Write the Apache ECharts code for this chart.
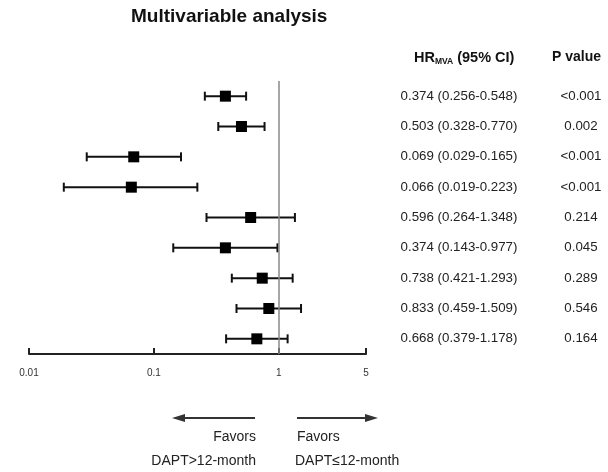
<!DOCTYPE html>
<html>
<head>
<meta charset="utf-8">
<script src="https://cdn.jsdelivr.net/npm/echarts@6/dist/echarts.min.js"></script>
<style>html,body{margin:0;padding:0;background:#fff}#c{width:608px;height:472px}</style>
</head>
<body>
<div id="c"></div>
<script>
var hr = [0.374, 0.503, 0.069, 0.066, 0.596, 0.374, 0.738, 0.833, 0.668];
var ciLow = [0.256, 0.328, 0.029, 0.019, 0.264, 0.143, 0.421, 0.459, 0.379];
var ciHigh = [0.548, 0.770, 0.165, 0.223, 1.348, 0.977, 1.293, 1.509, 1.178];
var hrText = ['0.374 (0.256-0.548)', '0.503 (0.328-0.770)', '0.069 (0.029-0.165)', '0.066 (0.019-0.223)',
  '0.596 (0.264-1.348)', '0.374 (0.143-0.977)', '0.738 (0.421-1.293)', '0.833 (0.459-1.509)', '0.668 (0.379-1.178)'];
var pText = ['<0.001', '0.002', '<0.001', '<0.001', '0.214', '0.045', '0.289', '0.546', '0.164'];
var xTicks = [0.01, 0.1, 1, 5];
var xTickLabels = ['0.01', '0.1', '1', '5'];

var FONT = 'Liberation Sans, Arial, Helvetica, sans-serif';
var data = hr.map(function (v, i) { return [i, v, ciLow[i], ciHigh[i]]; });

var chart = echarts.init(document.getElementById('c'));
chart.setOption({
  animation: false,
  backgroundColor: '#fff',
  textStyle: { fontFamily: FONT },
  title: [
    { text: 'Multivariable analysis', left: 126, top: 2,
      textStyle: { fontFamily: FONT, fontSize: 19, fontWeight: 'bold', color: '#111' } },
    { text: 'HR{sub|MVA} (95% CI)', left: 409, top: 45,
      textStyle: { fontFamily: FONT, fontSize: 14.5, fontWeight: 'bold', color: '#111',
        rich: { sub: { fontFamily: FONT, fontSize: 8.5, fontWeight: 'bold', color: '#111', verticalAlign: 'bottom', padding: [7, 0, 0, 0] } } } },
    { text: 'P value', left: 547, top: 45,
      textStyle: { fontFamily: FONT, fontSize: 14, fontWeight: 'bold', color: '#111' } }
  ],
  grid: { left: 29, right: 242, top: 81, bottom: 118, outerBoundsMode: 'none', containLabel: false },
  xAxis: {
    type: 'log', logBase: 10, min: 0.01, max: 5,
    splitLine: { show: false },
    axisLine: { show: true, lineStyle: { color: '#222', width: 2 } },
    axisTick: { show: true, inside: true, length: 6, customValues: xTicks, lineStyle: { color: '#222', width: 2 } },
    minorTick: { show: false },
    axisLabel: {
      customValues: xTicks, margin: 14, fontSize: 10, color: '#333', fontFamily: FONT,
      formatter: function (v) {
        var idx = -1;
        for (var i = 0; i < xTicks.length; i++) { if (Math.abs(xTicks[i] - v) / xTicks[i] < 1e-6) idx = i; }
        return idx >= 0 ? xTickLabels[idx] : '';
      }
    }
  },
  yAxis: [
    { type: 'category', data: hrText, inverse: true, position: 'right',
      axisLine: { show: false }, axisTick: { show: false }, splitLine: { show: false },
      axisLabel: { margin: 93, align: 'center', fontSize: 13.3, color: '#222', fontFamily: FONT } },
    { type: 'category', data: pText, inverse: true, position: 'right',
      axisLine: { show: false }, axisTick: { show: false }, splitLine: { show: false },
      axisLabel: { margin: 215, align: 'center', fontSize: 13.3, color: '#222', fontFamily: FONT } }
  ],
  series: [{
    type: 'custom',
    yAxisIndex: 0,
    encode: { x: [1, 2, 3], y: 0 },
    data: data,
    renderItem: function (params, api) {
      var row = api.value(0);
      var c = api.coord([api.value(1), row]);
      var l = api.coord([api.value(2), row]);
      var h = api.coord([api.value(3), row]);
      var y = c[1], cap = 4.5, s = 11;
      var st = { stroke: '#111', lineWidth: 2 };
      return { type: 'group', children: [
        { type: 'line', shape: { x1: l[0], y1: y, x2: h[0], y2: y }, style: st },
        { type: 'line', shape: { x1: l[0], y1: y - cap, x2: l[0], y2: y + cap }, style: st },
        { type: 'line', shape: { x1: h[0], y1: y - cap, x2: h[0], y2: y + cap }, style: st },
        { type: 'rect', shape: { x: c[0] - s / 2, y: y - s / 2, width: s, height: s }, style: { fill: '#000' } }
      ] };
    },
    markLine: {
      silent: true, symbol: 'none', label: { show: false },
      lineStyle: { color: '#888', width: 1.5, type: 'solid' },
      data: [{ xAxis: 1 }]
    },
    z: 3
  }],
  graphic: [
    { type: 'line', shape: { x1: 255, y1: 418, x2: 182, y2: 418 }, style: { stroke: '#333', lineWidth: 2 } },
    { type: 'polygon', shape: { points: [[172, 418], [185, 414], [185, 422]] }, style: { fill: '#333' } },
    { type: 'line', shape: { x1: 297, y1: 418, x2: 368, y2: 418 }, style: { stroke: '#333', lineWidth: 2 } },
    { type: 'polygon', shape: { points: [[378, 418], [365, 414], [365, 422]] }, style: { fill: '#333' } },
    { type: 'text', x: 256, y: 437, style: { text: 'Favors', align: 'right', verticalAlign: 'middle', fontSize: 14, fontFamily: FONT, fill: '#222' } },
    { type: 'text', x: 256, y: 461, style: { text: 'DAPT>12-month', align: 'right', verticalAlign: 'middle', fontSize: 14, fontFamily: FONT, fill: '#222' } },
    { type: 'text', x: 297, y: 437, style: { text: 'Favors', align: 'left', verticalAlign: 'middle', fontSize: 14, fontFamily: FONT, fill: '#222' } },
    { type: 'text', x: 295, y: 461, style: { text: 'DAPT≤12-month', align: 'left', verticalAlign: 'middle', fontSize: 14, fontFamily: FONT, fill: '#222' } }
  ]
});
</script>
</body>
</html>
